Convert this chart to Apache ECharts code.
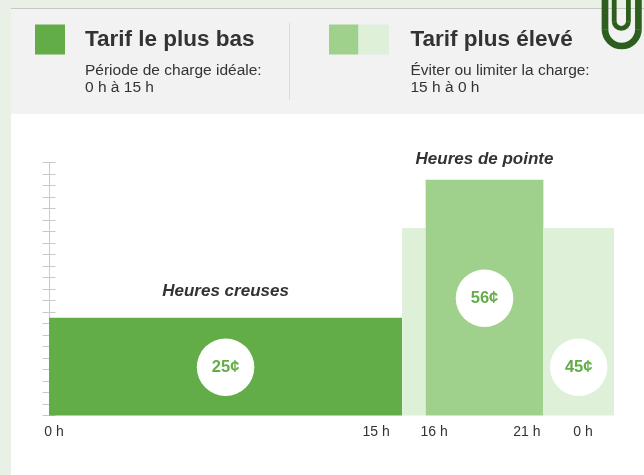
<!DOCTYPE html>
<html>
<head>
<meta charset="utf-8">
<script src="https://cdn.jsdelivr.net/npm/echarts@6/dist/echarts.min.js"></script>
<style>
html,body{margin:0;padding:0;background:#e9f0e6;}
#c{width:644px;height:475px;}
</style>
</head>
<body>
<div id="c"></div>
<script>
// ---- data ----
const segStart   = [0, 15, 16, 21];          // hour where each tariff block starts
const segEnd     = [15, 16, 21, 24];         // hour where each block ends
const segHeight  = [8.5, 16.3, 20.5, 16.3];  // bar height (axis units)
const segKind    = ['low', 'high', 'peak', 'high'];
const segPrice   = [25, null, 56, 45];       // price badge (cents)
const badgeLevel = [4.2, null, 10.2, 4.2];   // badge height (axis units)
const periodName = ['Heures creuses', null, 'Heures de pointe', null];
const xTickValues = [0, 15, 16, 21, 24];
const xTickLabels = ['0 h', '15 h', '16 h', '21 h', '0 h'];
const yMax = 22;

const legendLow  = { title: 'Tarif le plus bas', line1: 'Période de charge idéale:', line2: '0 h à 15 h' };
const legendHigh = { title: 'Tarif plus élevé',  line1: 'Éviter ou limiter la charge:', line2: '15 h à 0 h' };

// ---- styles ----
const COLORS = { low: '#62ad47', peak: '#a0d18c', high: '#dff0d8' };
const FONT = '"Liberation Sans", Arial, sans-serif';
const labelPad = { 0: [0,0,0,10], 15: [0,52,0,0], 16: [0,0,0,17], 21: [0,33,0,0], 24: [0,62,0,0] };
const LOGO = '#2d5e1e';

const segData = segStart.map((s, i) => [s, segEnd[i], segHeight[i], i]);
const badgeData = [];
segPrice.forEach((p, i) => {
  if (p != null) badgeData.push({ value: [(segStart[i] + segEnd[i]) / 2, badgeLevel[i]], price: p });
});

const chart = echarts.init(document.getElementById('c'), null, { renderer: 'canvas' });

const labelOffsets = { 0: 26, 2: 20 };

const option = {
  backgroundColor: '#e9f0e6',
  animation: false,
  grid: { left: 49, right: 30, top: 162.5, bottom: 59.5 },
  xAxis: {
    type: 'value', min: 0, max: 24,
    axisLine: { show: false }, axisTick: { show: false }, splitLine: { show: false },
    axisLabel: {
      customValues: xTickValues,
      margin: 10,
      formatter: function (v) {
        const idx = xTickValues.indexOf(v);
        return '{t' + v + '|' + xTickLabels[idx] + '}';
      },
      rich: (function () {
        const r = {};
        xTickValues.forEach(v => {
          r['t' + v] = { fontFamily: FONT, fontSize: 14, color: '#333', padding: labelPad[v] };
        });
        return r;
      })()
    }
  },
  yAxis: [
    {
      type: 'value', min: 0, max: yMax, interval: 1,
      axisLine: { show: true, lineStyle: { color: '#c8c8c8', width: 1 } },
      axisTick: { show: true, length: 6.5, lineStyle: { color: '#c8c8c8' } },
      axisLabel: { show: false }, splitLine: { show: false }
    },
    {
      type: 'value', min: 0, max: yMax, interval: 1, position: 'left',
      axisLine: { show: false },
      axisTick: { show: true, inside: true, length: 6.5, lineStyle: { color: '#c8c8c8' } },
      axisLabel: { show: false }, splitLine: { show: false }
    }
  ],
  graphic: [
    // white panel + header
    { type: 'rect', shape: { x: 11, y: 9, width: 633, height: 466 }, style: { fill: '#ffffff' }, z: -10, silent: true },
    { type: 'rect', shape: { x: 11, y: 9, width: 633, height: 105 }, style: { fill: '#f2f2f2' }, z: -9, silent: true },
    { type: 'line', shape: { x1: 11, y1: 8.5, x2: 644, y2: 8.5 }, style: { stroke: '#c5c9c2', lineWidth: 1 }, z: -8, silent: true },
    { type: 'line', shape: { x1: 289.5, y1: 23, x2: 289.5, y2: 100 }, style: { stroke: '#dcdcdc', lineWidth: 1 }, z: -8, silent: true },
    // legend swatches
    { type: 'rect', shape: { x: 35, y: 24.5, width: 30, height: 30 }, style: { fill: COLORS.low } },
    { type: 'rect', shape: { x: 329, y: 24.5, width: 29.5, height: 30 }, style: { fill: COLORS.peak } },
    { type: 'rect', shape: { x: 358.5, y: 24.5, width: 30.5, height: 30 }, style: { fill: COLORS.high } },
    // legend texts
    { type: 'text', x: 85, y: 40, style: { text: legendLow.title, font: 'bold 22.5px ' + FONT, fill: '#333', verticalAlign: 'middle' } },
    { type: 'text', x: 85, y: 70.5, style: { text: legendLow.line1, font: '15.5px ' + FONT, fill: '#333', verticalAlign: 'middle' } },
    { type: 'text', x: 85, y: 88, style: { text: legendLow.line2, font: '15.5px ' + FONT, fill: '#333', verticalAlign: 'middle' } },
    { type: 'text', x: 410.5, y: 40, style: { text: legendHigh.title, font: 'bold 22.5px ' + FONT, fill: '#333', verticalAlign: 'middle' } },
    { type: 'text', x: 410.5, y: 70.5, style: { text: legendHigh.line1, font: '15.5px ' + FONT, fill: '#333', verticalAlign: 'middle' } },
    { type: 'text', x: 410.5, y: 88, style: { text: legendHigh.line2, font: '15.5px ' + FONT, fill: '#333', verticalAlign: 'middle' } },
    // logo (paper-clip style U)
    { type: 'line', shape: { x1: 605, y1: 0, x2: 605, y2: 29.5 }, style: { stroke: LOGO, lineWidth: 6.7 }, z: 10 },
    { type: 'line', shape: { x1: 638.4, y1: 0, x2: 638.4, y2: 29.5 }, style: { stroke: LOGO, lineWidth: 6.7 }, z: 10 },
    { type: 'arc', shape: { cx: 621.7, cy: 29.3, r: 16.7, startAngle: 0, endAngle: Math.PI, clockwise: true },
      style: { stroke: LOGO, lineWidth: 6.7, fill: null }, z: 10 },
    { type: 'line', shape: { x1: 614.2, y1: 0, x2: 614.2, y2: 21.5 }, style: { stroke: LOGO, lineWidth: 4.8 }, z: 10 },
    { type: 'line', shape: { x1: 628.4, y1: 0, x2: 628.4, y2: 21.5 }, style: { stroke: LOGO, lineWidth: 4.8 }, z: 10 },
    { type: 'arc', shape: { cx: 621.3, cy: 21.2, r: 7.1, startAngle: 0, endAngle: Math.PI, clockwise: true },
      style: { stroke: LOGO, lineWidth: 4.8, fill: null }, z: 10 }
  ],
  series: [
    {
      type: 'custom',
      yAxisIndex: 0,
      data: segData,
      z: 2,
      renderItem: function (params, api) {
        const s = api.value(0), e = api.value(1), h = api.value(2), i = api.value(3);
        const p0 = api.coord([s, 0]);
        const p1 = api.coord([e, h]);
        const children = [{
          type: 'rect',
          shape: { x: p0[0], y: p1[1], width: p1[0] - p0[0], height: p0[1] - p1[1] },
          style: { fill: COLORS[segKind[i]] }
        }];
        if (periodName[i]) {
          children.push({
            type: 'text',
            style: {
              text: periodName[i], x: (p0[0] + p1[0]) / 2, y: p1[1] - labelOffsets[i],
              font: 'italic bold 17px ' + FONT, fill: '#333', align: 'center', verticalAlign: 'middle'
            }
          });
        }
        return { type: 'group', children: children };
      }
    },
    {
      type: 'scatter',
      yAxisIndex: 0,
      z: 5,
      symbol: 'circle',
      symbolSize: 57.5,
      itemStyle: { color: '#ffffff', opacity: 1 },
      data: badgeData,
      label: {
        show: true, position: 'inside',
        formatter: function (p) { return p.data.price + '¢'; },
        fontFamily: FONT, fontWeight: 'bold', fontSize: 16.5, color: COLORS.low
      }
    }
  ]
};
chart.setOption(option);
</script>
</body>
</html>
